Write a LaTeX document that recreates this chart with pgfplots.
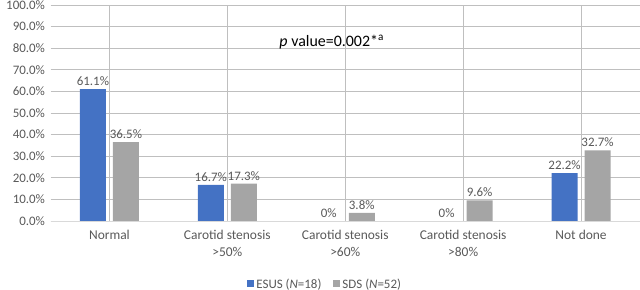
\documentclass[border=0pt]{standalone}
\usepackage{pgfplots}
\pgfplotsset{compat=1.18}
\usepackage{fontspec}
\setmainfont{Carlito}
\definecolor{esus}{HTML}{4472C4}
\definecolor{sds}{HTML}{A5A5A5}
\definecolor{txt}{HTML}{595959}
\definecolor{grid}{HTML}{D9D9D9}
\begin{document}
\begin{tikzpicture}
\useasboundingbox (0,0) rectangle (640bp,290bp);
\begin{axis}[
  at={(50.5bp,69bp)}, anchor=south west,
  scale only axis, width=589.5bp, height=216bp,
  xmin=-0.5, xmax=4.5, ymin=0, ymax=100,
  ybar, bar width=26bp,
  axis line style={draw=none},
  ytick={0,10,...,100},
  yticklabel={\pgfmathprintnumber[fixed,precision=1,zerofill]{\tick}\%},
  /pgf/number format/assume math mode=true,
  ymajorgrids, grid style={grid, line width=0.8pt},
  major tick length=0pt,
  xtick={0,1,2,3,4},
  xticklabels={Normal, {Carotid stenosis\\>50\%}, {Carotid stenosis\\>60\%}, {Carotid stenosis\\>80\%}, Not done},
  xticklabel style={align=center, font=\fontsize{13.5}{17}\selectfont, text=txt, yshift=-6bp},
  yticklabel style={font=\fontsize{13}{15}\selectfont, text=txt, xshift=-2bp},
  point meta=explicit symbolic,
  nodes near coords={\pgfplotspointmeta},
  nodes near coords style={font=\fontsize{13}{15}\selectfont, text=txt},
  legend style={at={(0.466,-0.292)}, anchor=center, draw=none, legend columns=2,
    font=\fontsize{13}{15}\selectfont, text=txt,
    /tikz/every even column/.append style={column sep=10bp}},
  legend image code/.code={\fill[#1] (0bp,-3bp) rectangle (7bp,4bp);},
  clip=false,
]
\addplot[fill=esus, draw=none, bar shift=-16.5bp] coordinates {
  (0,61.1) [61.1\%]
  (1,16.7) [16.7\%]
  (2,0)    [0\%]
  (3,0)    [0\%]
  (4,22.2) [22.2\%]
};
\addlegendentry{ESUS (\textit{N}=18)}
\addplot[fill=sds, draw=none, bar shift=16.5bp] coordinates {
  (0,36.5) [36.5\%]
  (1,17.3) [17.3\%]
  (2,3.8)  [3.8\%]
  (3,9.6)  [9.6\%]
  (4,32.7) [32.7\%]
};
\addlegendentry{SDS (\textit{N}=52)}
\draw[grid, line width=0.8pt] (rel axis cs:0,0) -- (rel axis cs:1,0);
\node[font=\fontsize{16}{18}\selectfont, text=black] at (rel axis cs:0.477,0.829)
  {\textit{p} value=0.002*\textsuperscript{a}};
\end{axis}
\end{tikzpicture}
\end{document}
